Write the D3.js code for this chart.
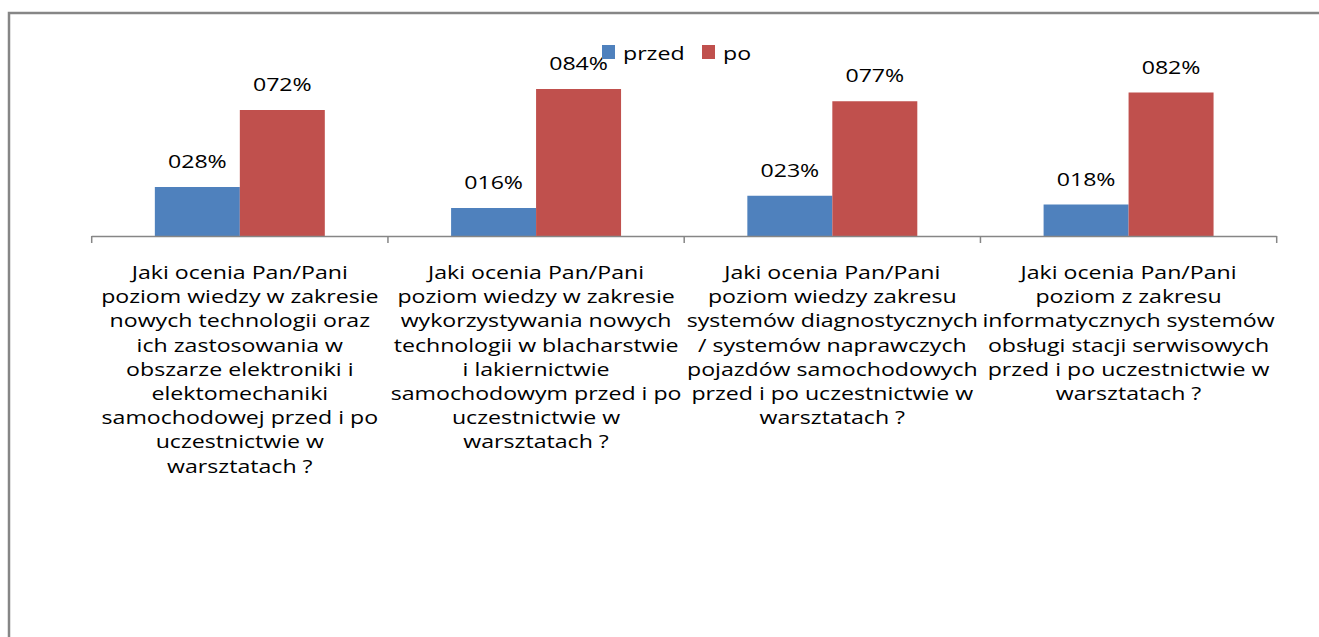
<!DOCTYPE html>
<html>
<head>
<meta charset="utf-8">
<script src="https://cdn.jsdelivr.net/npm/d3@7"></script>
<style>
  html, body { margin: 0; background: #fff; overflow: hidden; }
  svg { display: block; font-family: "Open Sans", sans-serif; }
</style>
</head>
<body>
<div id="chart"></div>
<script>
// data
const categories = ["k1", "k2", "k3", "k4"];
const categoryLines = [
    ["Jaki ocenia Pan/Pani", "poziom wiedzy w zakresie", "nowych technologii oraz", "ich zastosowania w",
     "obszarze elektroniki i", "elektomechaniki", "samochodowej przed i po", "uczestnictwie w", "warsztatach  ?"],
    ["Jaki ocenia Pan/Pani", "poziom wiedzy w zakresie", "wykorzystywania nowych", "technologii w blacharstwie",
     "i lakiernictwie", "samochodowym przed i po", "uczestnictwie w", "warsztatach  ?"],
    ["Jaki ocenia Pan/Pani", "poziom wiedzy zakresu", "systemów diagnostycznych", "/ systemów naprawczych",
     "pojazdów samochodowych", "przed i po uczestnictwie w", "warsztatach  ?"],
    ["Jaki ocenia Pan/Pani", "poziom z zakresu", "informatycznych systemów", "obsługi stacji serwisowych",
     "przed i po uczestnictwie w", "warsztatach ?"]
];
const seriesNames = ["przed", "po"];
const przed = [28, 16, 23, 18];
const po = [72, 84, 77, 82];
const colors = ["#4F81BD", "#C0504D"];

const width = 1319;
const height = 637;
const fontSize = "17.8px";
const stretch = 1.3;   // the original font is wider than Open Sans

const svg = d3.select("#chart").append("svg")
    .attr("width", width)
    .attr("height", height);

// outer chart frame: only its top and left edges are inside the picture
svg.append("path")
    .attr("d", `M9,${height} V13 H${width}`)
    .attr("fill", "none")
    .attr("stroke", "#868686")
    .attr("stroke-width", 2.5);

const x0 = d3.scaleBand()
    .domain(categories)
    .range([91.7, 1276.7]);

const x1 = d3.scaleBand()
    .domain(seriesNames)
    .range([0, x0.bandwidth()])
    .paddingInner(0)
    .paddingOuter(0.743);

const y = d3.scaleLinear()
    .domain([0, 100])
    .range([236, 61]);

const rows = categories.map((c, i) => ({ cat: c, values: [przed[i], po[i]] }));

const group = svg.selectAll(".grp")
    .data(rows)
    .enter().append("g")
    .attr("class", "grp")
    .attr("transform", d => `translate(${x0(d.cat)},0)`);

group.selectAll("rect")
    .data(d => d.values.map((v, j) => ({ name: seriesNames[j], value: v, color: colors[j] })))
    .enter().append("rect")
    .attr("x", d => x1(d.name))
    .attr("y", d => y(d.value))
    .attr("width", x1.bandwidth())
    .attr("height", d => y(0) - y(d.value))
    .attr("fill", d => d.color);

group.selectAll(".val")
    .data(d => d.values.map((v, j) => ({ name: seriesNames[j], value: v })))
    .enter().append("text")
    .attr("class", "val")
    .attr("transform", d => `translate(${x1(d.name) + x1.bandwidth() / 2},${y(d.value) - 19}) scale(${stretch},1)`)
    .attr("text-anchor", "middle")
    .style("font-size", fontSize)
    .style("fill", "#000")
    .text(d => "0" + d.value + "%");

// x axis: line plus tick marks at category boundaries
svg.append("line")
    .attr("x1", x0.range()[0])
    .attr("x2", x0.range()[1])
    .attr("y1", y(0) + 0.5)
    .attr("y2", y(0) + 0.5)
    .attr("stroke", "#868686")
    .attr("stroke-width", 1.5);

const tickXs = categories.map(c => x0(c)).concat([x0.range()[1]]);
svg.selectAll(".tick")
    .data(tickXs)
    .enter().append("line")
    .attr("x1", d => d)
    .attr("x2", d => d)
    .attr("y1", y(0))
    .attr("y2", y(0) + 7)
    .attr("stroke", "#868686")
    .attr("stroke-width", 1.5);

// category labels
const lab = svg.selectAll(".cat")
    .data(rows)
    .enter().append("text")
    .attr("class", "cat")
    .attr("transform", d => `translate(${x0(d.cat) + x0.bandwidth() / 2},0) scale(${stretch},1)`)
    .attr("text-anchor", "middle")
    .style("font-size", fontSize)
    .style("fill", "#000");

lab.selectAll("tspan")
    .data((d, i) => categoryLines[i])
    .enter().append("tspan")
    .attr("x", 0)
    .attr("y", (d, k) => 279 + k * 24.2)
    .text(d => d);

// legend
const legend = svg.append("g").attr("class", "legend");
const legendX = [602, 702];
seriesNames.forEach((s, j) => {
    legend.append("rect")
        .attr("x", legendX[j])
        .attr("y", 45)
        .attr("width", 13)
        .attr("height", 14)
        .attr("fill", colors[j]);
    legend.append("text")
        .attr("transform", `translate(${legendX[j] + 21},60) scale(${stretch},1)`)
        .style("font-size", fontSize)
        .text(s);
});
</script>
</body>
</html>
